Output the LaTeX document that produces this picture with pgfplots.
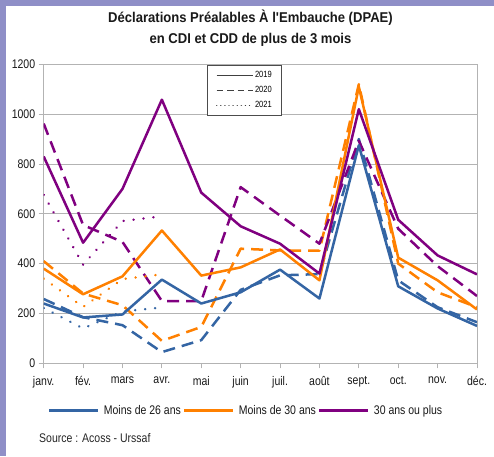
\documentclass[border=0pt]{standalone}
\usepackage{fontspec}
\setmainfont{Liberation Sans}[FakeStretch=0.84]
\newfontfamily\titlefont{Liberation Sans}[FakeStretch=0.92]
\usepackage{pgfplots}
\usepackage{pgfplotstable}
\pgfplotsset{compat=1.18}
\definecolor{cblue}{RGB}{52,101,164}
\definecolor{corange}{RGB}{255,128,0}
\definecolor{cpurple}{RGB}{128,0,128}
\definecolor{gridgray}{RGB}{179,179,179}
\definecolor{framec}{RGB}{143,143,199}

\pgfplotstableread{
x b19 b20 o19 o20 p19 p20
0 240 258 380 410 830 962
1 184 185 277 280 484 555
2 196 153 349 233 700 487
3 336 45 533 90 1058 250
4 240 93 352 146 685 250
5 285 295 385 460 550 707
6 376 353 457 453 480 593
7 260 358 333 452 360 480
8 875 900 1110 1120 1020 893
9 309 333 424 400 576 540
10 220 225 333 285 433 390
11 150 165 216 225 357 270
}\tabmain
\pgfplotstableread{
x b21 o21 p21
0 222 340 676
1 140 226 396
2 208 338 571
3 224 357 590
}\tabtwo

\tikzset{
  s19/.style={line width=2.5pt, line join=round},
  s20/.style={line width=2.5pt, line join=round, dash pattern=on 12pt off 7pt},
  s21/.style={line width=2.6pt, line cap=round, dash pattern=on 0.1pt off 9.9pt},
}

\begin{document}
\begin{tikzpicture}
\useasboundingbox (-43.7pt,-92.7pt) rectangle (450.3pt,363.3pt);
\fill[white] (-43.7pt,-92.7pt) rectangle (450.3pt,363.3pt);
\fill[framec] (-43.7pt,-92.7pt) rectangle (-37.7pt,363.3pt);
\fill[framec] (-43.7pt,357.5pt) rectangle (450.3pt,363.3pt);

\node[align=center, font=\titlefont\bfseries\fontsize{14.2}{20.5}\selectfont, text=black!90] at (206.8pt,335pt) {Déclarations Préalables À l'Embauche (DPAE)\\en CDI et CDD de plus de 3 mois};
\node[anchor=west, font=\fontsize{12.5}{14}\selectfont, text=black!85] at (-8pt,-74.7pt) {Source : Acoss - Urssaf};

\begin{axis}[
  at={(0pt,0pt)}, anchor=south west, scale only axis,
  width=433.3pt, height=299pt,
  xmin=0, xmax=11, ymin=0, ymax=1200,
  xtick={0,...,11},
  xticklabels={janv.,fév.,mars,avr.,mai,juin,juil.,août,sept.,oct.,nov.,déc.},
  ytick={0,200,...,1200},
  ymajorgrids, grid style={gridgray, line width=0.9pt},
  axis line style={gridgray, line width=0.9pt},
  tick style={gridgray, line width=0.9pt},
  major tick length=5pt, tick align=outside,
  xtick pos=bottom, ytick pos=left,
  tick label style={font=\fontsize{12.5}{14}\selectfont, text=black!90},
  xticklabel style={yshift=-4.5pt},
  /pgf/number format/assume math mode=true,
  /pgf/number format/1000 sep={},
  legend cell align=left,
  legend image code/.code={\draw[#1] (0pt,0pt) -- (36pt,0pt);},
  legend style={at={(0.3776,0.9977)}, anchor=north west, draw=black!70, line width=1pt, fill=white,
    font=\fontsize{9}{10}\selectfont, row sep=3pt, inner xsep=8pt, inner ysep=4pt,
    nodes={inner sep=1.5pt, text height=7pt, text depth=2pt}},
]
\addlegendimage{black!75, line width=1.7pt}
\addlegendentry{2019}
\addlegendimage{black!75, line width=1.7pt, dash pattern=on 6.5pt off 4pt}
\addlegendentry{2020}
\addlegendimage{black!75, line width=1.3pt, line cap=round, dash pattern=on 0.1pt off 4pt}
\addlegendentry{2021}

\addplot[cblue, s20, forget plot] table[x=x, y=b20] {\tabmain};
\addplot[corange, s20, forget plot] table[x=x, y=o20] {\tabmain};
\addplot[cpurple, s20, forget plot] table[x=x, y=p20] {\tabmain};
\addplot[cblue, s21, forget plot] table[x=x, y=b21] {\tabtwo};
\addplot[corange, s21, forget plot] table[x=x, y=o21] {\tabtwo};
\addplot[cpurple, s21, forget plot] table[x=x, y=p21] {\tabtwo};
\addplot[cblue, s19, forget plot] table[x=x, y=b19] {\tabmain};
\addplot[corange, s19, forget plot] table[x=x, y=o19] {\tabmain};
\addplot[cpurple, s19, forget plot] table[x=x, y=p19] {\tabmain};
\end{axis}

\begin{axis}[
  at={(0pt,0pt)}, anchor=south west, scale only axis,
  width=433.3pt, height=299pt, hide axis,
  xmin=0, xmax=1, ymin=0, ymax=1,
  legend columns=3,
  legend image code/.code={\draw[#1, line width=3pt] (0pt,0pt) -- (49pt,0pt);},
  legend style={at={(0.467,-0.1585)}, anchor=center, draw=none, fill=none,
    font=\fontsize{12.5}{14}\selectfont, text=black!90,
    nodes={inner sep=2pt},
    /tikz/every odd column/.append style={column sep=2pt}},
]
\addlegendimage{cblue}
\addlegendentry{Moins de 26 ans}
\addlegendimage{corange}
\addlegendentry{Moins de 30 ans}
\addlegendimage{cpurple}
\addlegendentry{30 ans ou plus}
\end{axis}
\end{tikzpicture}
\end{document}
